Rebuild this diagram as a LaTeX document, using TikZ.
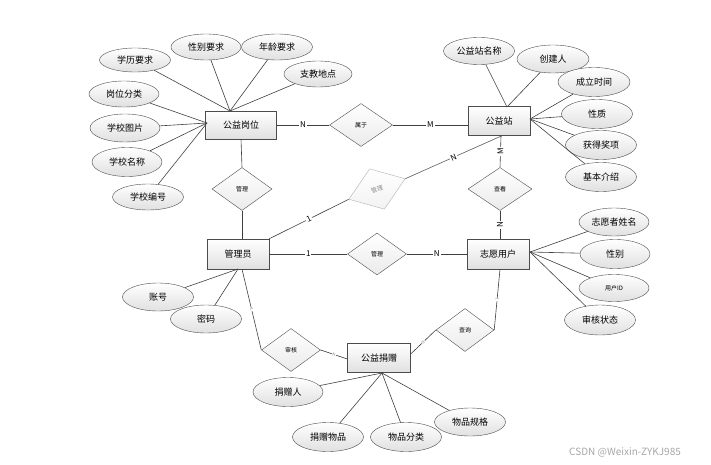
\documentclass[tikz,border=0pt]{standalone}
\usepackage{fontspec}
\setmainfont{Noto Sans CJK SC}
\usetikzlibrary{shapes.geometric}

\tikzset{
    entity/.style={draw=black!70, rectangle, minimum width=62pt, minimum height=29pt, inner sep=0pt,
        top color=white, bottom color=black!12, font=\fontsize{9}{9}\selectfont},
    attr/.style={draw=black!70, ellipse, minimum width=71pt, minimum height=27pt, inner sep=0pt,
        top color=white, bottom color=black!12, font=\fontsize{9}{9}\selectfont},
    rel/.style={draw=black!70, diamond, minimum width=60pt, minimum height=43pt, inner sep=0pt,
        top color=white, bottom color=black!8, font=\fontsize{6}{6}\selectfont},
    link/.style={draw=black!75, line width=0.6pt},
    card/.style={fill=white, inner sep=1pt, font=\fontsize{8}{8}\selectfont},
    tinycard/.style={fill=white, inner sep=0.5pt, text=black!50, font=\fontsize{4}{4}\selectfont}
}

\begin{document}
\begin{tikzpicture}[x=1pt, y=-1pt]
        \useasboundingbox (0,0) rectangle (711,465);

        % Entities
        \node [entity, minimum width=71pt, minimum height=28pt] (gw) at (241,125) {公益岗位};
        \node [entity] (gz) at (499,121) {公益站};
        \node [entity, minimum height=30pt] (gly) at (238,254) {管理员};
        \node [entity, minimum height=30pt] (zy) at (498,254) {志愿用户};
        \node [entity, minimum width=63pt] (jz) at (379,358) {公益捐赠};

        % Relations
        \node [rel, minimum width=63pt] (sy) at (361,125) {属于};
        \node [rel] (gl1) at (242,189) {管理};
        \node [rel, rotate=20, draw=black!30, bottom color=black!5, text=black!45] (gl2) at (377,189) {管理};
        \node [rel, minimum width=64pt] (ck) at (500,189) {查看};
        \node [rel, minimum width=59pt, minimum height=42pt] (gl3) at (377,254) {管理};
        \node [rel, minimum width=59pt] (sh) at (291,350) {审核};
        \node [rel, minimum width=58pt] (cx) at (465,330) {查询};

        % Attributes of 公益岗位
        \node [attr, minimum height=24pt] (xl) at (135,60) {学历要求};
        \node [attr, minimum width=70pt, minimum height=26pt] (xbyq) at (206,47) {性别要求};
        \node [attr, minimum height=26pt] (nl) at (277,47) {年龄要求};
        \node [attr, minimum width=68pt, minimum height=26pt] (zj) at (318,74) {支教地点};
        \node [attr, minimum width=70pt, minimum height=26pt] (gf) at (124,94) {岗位分类};
        \node [attr, minimum width=70pt, minimum height=28pt] (tp) at (125,128) {学校图片};
        \node [attr, minimum width=70pt, minimum height=29pt] (mc) at (127,162) {学校名称};
        \node [attr, minimum height=26pt] (bh) at (148,197) {学校编号};

        % Attributes of 公益站
        \node [attr] (zm) at (479,51) {公益站名称};
        \node [attr, minimum width=72pt, minimum height=28pt] (cj) at (553,59) {创建人};
        \node [attr, minimum width=72pt, minimum height=29pt] (cl) at (594,82) {成立时间};
        \node [attr, minimum height=29pt] (xz) at (597,114) {性质};
        \node [attr, minimum height=29pt] (hj) at (601,145) {获得奖项};
        \node [attr, minimum height=29pt] (js) at (601,177) {基本介绍};

        % Attributes of 志愿用户
        \node [attr, minimum width=70pt, minimum height=28pt] (xm) at (614,222) {志愿者姓名};
        \node [attr, minimum width=70pt, minimum height=29pt] (xb) at (615,254) {性别};
        \node [attr, minimum width=70pt, font=\fontsize{6}{6}\selectfont] (yh) at (614,288) {用户ID};
        \node [attr, minimum height=30pt] (zt) at (600,320) {审核状态};

        % Attributes of 管理员 and 公益捐赠
        \node [attr, minimum height=28pt] (zh) at (158,297) {账号};
        \node [attr, minimum height=28pt] (mm) at (206,319) {密码};
        \node [attr, minimum width=70pt, minimum height=29pt] (jr) at (288,392) {捐赠人};
        \node [attr, minimum height=29pt] (wp) at (328,437) {捐赠物品};
        \node [attr, minimum height=29pt] (fl) at (406,437) {物品分类};
        \node [attr, minimum height=28pt] (gg) at (470,422) {物品规格};

        % Meeting points of the attribute lines
        \coordinate (gw-t) at (230,111);
        \coordinate (gw-l) at (207,123);
        \coordinate (gz-t) at (507,107);
        \coordinate (gz-r) at (530,119);
        \coordinate (zy-r) at (530,252);
        \coordinate (gly-b) at (238,269);
        \coordinate (jz-b) at (382,373);

        \draw [link] (xl) -- (gw-t);
        \draw [link] (xbyq) -- (gw-t);
        \draw [link] (nl) -- (gw-t);
        \draw [link] (zj) -- (gw-t);
        \draw [link] (gf) -- (gw-l);
        \draw [link] (tp) -- (gw-l);
        \draw [link] (mc) -- (gw-l);
        \draw [link] (bh) -- (gw-l);

        \draw [link] (zm) -- (gz-t);
        \draw [link] (cj) -- (gz-t);
        \draw [link] (cl) -- (gz-r);
        \draw [link] (xz) -- (gz-r);
        \draw [link] (hj) -- (gz-r);
        \draw [link] (js) -- (gz-r);

        \draw [link] (xm) -- (zy-r);
        \draw [link] (xb) -- (zy-r);
        \draw [link] (yh) -- (zy-r);
        \draw [link] (zt) -- (zy-r);

        \draw [link] (zh) -- (gly-b);
        \draw [link] (mm) -- (gly-b);

        \draw [link] (jr) -- (jz-b);
        \draw [link] (wp) -- (jz-b);
        \draw [link] (fl) -- (jz-b);
        \draw [link] (gg) -- (jz-b);

        % Relation lines
        \draw [link] (gw.east) -- node [card] {N} (sy.west);
        \draw [link] (sy.east) -- node [card] {M} (sy.east -| gz.west);
        \draw [link] (gw.south) -- (gl1.north);
        \draw [link] (gl1.south) -- (gly.north -| gl1.south);
        \draw [link] (gly.north east) -- node [card, sloped] {1} (gl2.west);
        \draw [link, draw=black!65] (gl2.east) -- node [card, sloped] {N} ([xshift=3pt]gz.south);
        \draw [link] ([xshift=2pt]gz.south) -- node [card, rotate=90] {M} (ck.north);
        \draw [link] (ck.south) -- node [card, rotate=90] {N} (zy.north -| ck.south);
        \draw [link] (gly.east) -- node [card] {1} (gl3.west);
        \draw [link] (gl3.east) -- node [card] {N} (zy.west);
        \draw [link] ([xshift=4pt]gly.south) -- node [tinycard, sloped] {1} (sh.west);
        \draw [link] (sh.east) -- node [tinycard, sloped] {N} ([yshift=-1pt]jz.west);
        \draw [link] ([yshift=4pt]jz.east) -- node [tinycard, sloped] {N} (cx.west);
        \draw [link] (cx.east) -- node [tinycard, sloped] {1} ([xshift=2pt]zy.south);

        % Watermark
        \node [text=black!35, font=\fontsize{10}{10}\selectfont] (mark) at (625,452) {CSDN @Weixin-ZYKJ985};
\end{tikzpicture}
\end{document}
